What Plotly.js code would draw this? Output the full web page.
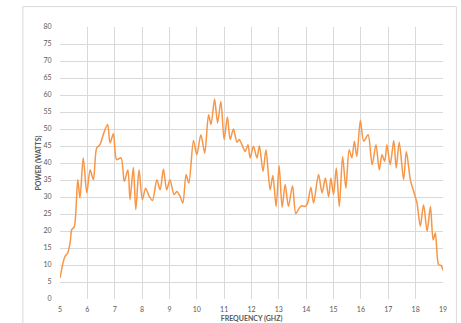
<!DOCTYPE html>
<html>
<head>
<meta charset="utf-8">
<script src="https://cdn.plot.ly/plotly-3.0.1.min.js"></script>
<style>html,body{margin:0;padding:0;background:#fff;}#chart{width:461px;height:323px;}</style>
</head>
<body>
<div id="chart"></div>
<script>
const frequencyGHz = [5.00,5.18,5.28,5.37,5.43,5.52,5.65,5.73,5.85,5.98,6.10,6.22,6.34,6.46,6.58,6.74,6.83,6.95,7.07,7.23,7.35,7.48,7.56,7.68,7.77,7.89,8.01,8.13,8.26,8.38,8.54,8.66,8.78,8.90,9.02,9.17,9.27,9.39,9.49,9.61,9.71,9.88,10.00,10.15,10.29,10.43,10.52,10.65,10.76,10.88,11.00,11.12,11.22,11.34,11.47,11.55,11.65,11.77,11.87,11.95,12.07,12.20,12.29,12.42,12.53,12.68,12.78,12.90,13.01,13.12,13.23,13.35,13.50,13.62,13.75,13.84,13.96,14.05,14.17,14.27,14.45,14.58,14.70,14.82,14.90,15.00,15.10,15.21,15.33,15.45,15.57,15.67,15.76,15.85,15.98,16.10,16.26,16.41,16.55,16.67,16.77,16.87,16.95,17.07,17.20,17.29,17.40,17.56,17.66,17.81,17.93,18.05,18.17,18.29,18.42,18.54,18.64,18.72,18.84,18.94,19.00];
const powerWatts = [6.2,12.5,13.5,16.5,20.4,21.2,35.1,29.7,41.5,31.2,38.0,35.1,44.4,45.4,48.3,51.3,45.9,48.6,41.0,41.5,34.6,38.0,29.2,38.7,26.3,38.0,29.2,32.6,30.2,29.0,35.1,32.1,38.2,32.1,35.1,30.7,31.6,30.2,28.2,36.6,34.1,46.6,42.4,48.3,42.9,54.2,51.3,58.8,51.8,58.1,46.9,53.5,46.9,50.0,46.1,46.9,45.4,43.4,45.4,41.5,44.9,41.5,45.1,37.5,43.9,32.1,36.3,27.2,39.2,27.0,33.7,27.2,33.3,25.1,26.8,27.4,27.2,28.2,32.9,28.2,36.6,31.2,35.6,30.0,35.6,30.7,38.5,27.2,41.9,32.6,43.9,41.5,46.4,41.9,52.6,46.4,48.3,39.5,45.4,38.0,42.4,40.5,45.4,39.5,46.6,38.5,46.1,35.1,43.4,34.9,31.6,28.2,21.4,27.7,19.9,27.2,17.4,19.4,10.1,9.8,8.4];
const xTicks = [5,6,7,8,9,10,11,12,13,14,15,16,17,18,19];
const yTicks = [0,5,10,15,20,25,30,35,40,45,50,55,60,65,70,75,80];
const xTitle = 'FREQUENCY (GHZ)';
const yTitle = 'POWER (WATTS)';

const textColor = '#595959';
const gridColor = '#d9d9d9';
const font = 'Lato, "Open Sans", sans-serif';

Plotly.newPlot('chart', [{
  x: frequencyGHz,
  y: powerWatts,
  type: 'scatter',
  mode: 'lines',
  line: {color: '#F79646', width: 1.5, shape: 'spline', smoothing: 0.8},
  hoverinfo: 'skip'
}], {
  width: 461, height: 323,
  margin: {l: 60, r: 18, t: 27, b: 24, pad: 0},
  paper_bgcolor: '#fff', plot_bgcolor: '#fff',
  showlegend: false,
  font: {family: font, size: 7, color: textColor},
  xaxis: {
    range: [5, 19], tickvals: xTicks, ticktext: xTicks.map(String),
    showgrid: true, gridcolor: gridColor, gridwidth: 1, zeroline: false,
    showline: false, ticks: 'outside', ticklen: 4, tickcolor: 'rgba(0,0,0,0)',
    tickfont: {family: font, size: 7, color: textColor},
    title: {text: '<b>' + xTitle + '</b>', font: {family: font, size: 7, color: textColor}, standoff: 3}
  },
  yaxis: {
    range: [0, 80], tickvals: yTicks, ticktext: yTicks.map(String),
    showgrid: true, gridcolor: gridColor, gridwidth: 1, zeroline: false,
    showline: false, ticks: 'outside', ticklen: 6, tickcolor: 'rgba(0,0,0,0)',
    tickfont: {family: font, size: 7, color: textColor},
    title: {text: '<b>' + yTitle + '</b>', font: {family: font, size: 7, color: textColor}, standoff: 1}
  },
  shapes: [{
    type: 'rect', xref: 'paper', yref: 'paper',
    x0: -0.097, x1: 1.035, y0: -0.12, y1: 1.075,
    line: {color: '#d9d9d9', width: 1}, fillcolor: 'rgba(0,0,0,0)', layer: 'below'
  }]
}, {displayModeBar: false, staticPlot: true});
</script>
</body>
</html>
